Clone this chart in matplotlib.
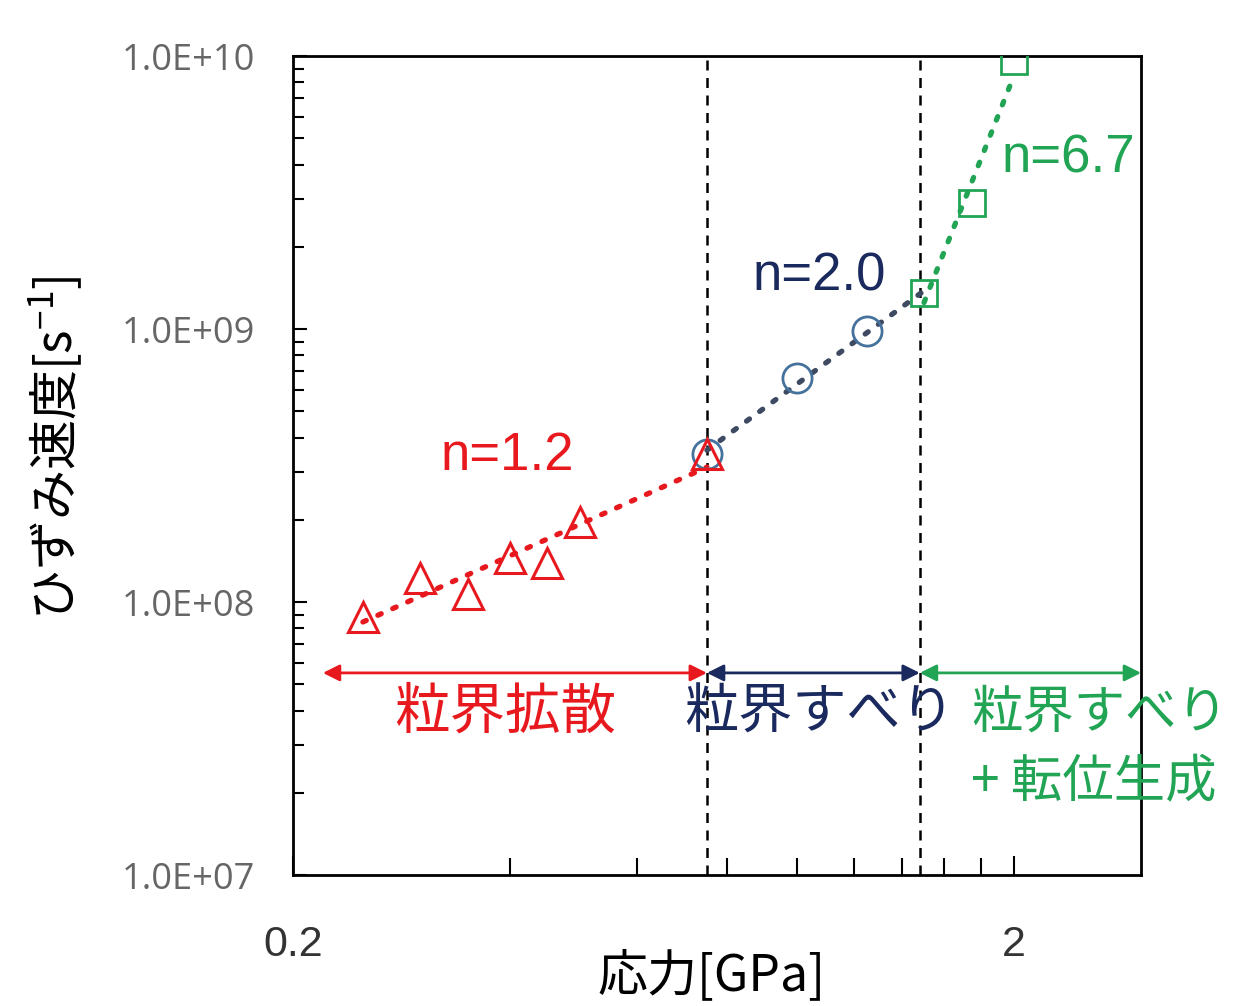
import math
import matplotlib
matplotlib.use("Agg")
import matplotlib.pyplot as plt
import matplotlib.ticker as mticker

plt.rcParams['font.family'] = ['Noto Sans CJK JP', 'DejaVu Sans']

RED = '#E8191E'
NAVY = '#1B2A5E'
BLUE = '#44729D'
BLUE_LINE = '#3E4A62'
GREEN = '#22A455'

# data
red_x = [0.25, 0.30, 0.35, 0.40, 0.45, 0.50, 0.75]
red_y = [8.8e7, 1.22e8, 1.07e8, 1.45e8, 1.39e8, 1.96e8, 3.48e8]
blue_x = [0.75, 1.0, 1.25]
blue_y = [3.48e8, 6.6e8, 9.8e8]
green_x = [1.5, 1.75, 2.0]
green_y = [1.35e9, 2.9e9, 9.6e9]

# fitted power-law lines (endpoints)
fit_red_x = [0.25, 0.75]
fit_red_y = [8.45e7, 3.12e8]
fit_blue_x = [0.75, 1.5]
fit_blue_y = [3.6e8, 1.38e9]
fit_green_x = [1.5, 2.0]
fit_green_y = [1.25e9, 8.5e9]

boundaries = [0.75, 1.48]
regime_x = [0.22, 0.75, 1.48, 3.0]
arrow_y = 5.5e7

fig = plt.figure(figsize=(12.38, 10.06), dpi=100)
ax = fig.add_axes([0.2367, 0.1302, 0.685, 0.8141])
ax.set_xscale('log')
ax.set_yscale('log')
ax.set_xlim(0.2, 3.0)
ax.set_ylim(1e7, 1e10)

dot = (0, (0.7, 2.4))
ax.plot(fit_red_x, fit_red_y, color=RED, lw=3.8, linestyle=dot, dash_capstyle='round', zorder=2)
ax.plot(fit_blue_x, fit_blue_y, color=BLUE_LINE, lw=3.8, linestyle=dot, dash_capstyle='round', zorder=2)
ax.plot(fit_green_x, fit_green_y, color=GREEN, lw=3.8, linestyle=dot, dash_capstyle='round', zorder=2)

ax.plot(blue_x, blue_y, 'o', ms=21, mfc='none', mec=BLUE, mew=2, zorder=3)
ax.plot(red_x, red_y, '^', ms=22, mfc='none', mec=RED, mew=2.2, zorder=4)
ax.plot(green_x, green_y, 's', ms=19, mfc='none', mec=GREEN, mew=2, zorder=5)

for b in boundaries:
    ax.axvline(b, color='black', lw=1.8, linestyle=(0, (4, 3)), zorder=1)

cols = [RED, NAVY, GREEN]
for i in range(3):
    ax.annotate('', xy=(regime_x[i + 1], arrow_y), xytext=(regime_x[i], arrow_y),
                arrowprops=dict(arrowstyle='<|-|>', color=cols[i], lw=2, mutation_scale=25,
                                shrinkA=0, shrinkB=0),
                annotation_clip=False)

ax.text(0.397, 3.43e8, 'n=1.2', color=RED, fontsize=38, ha='center', va='center', family='Liberation Sans')
ax.text(1.074, 1.56e9, 'n=2.0', color=NAVY, fontsize=38, ha='center', va='center', family='Liberation Sans')
ax.text(2.38, 4.23e9, 'n=6.7', color=GREEN, fontsize=38, ha='center', va='center', family='Liberation Sans')

ax.text(0.394, 3.92e7, '粒界拡散', color=RED, fontsize=40, ha='center', va='center')
ax.text(1.074, 3.92e7, '粒界すべり', color=NAVY, fontsize=39, ha='center', va='center')
ax.text(1.745, 3.92e7, '粒界すべり', color=GREEN, fontsize=37, ha='left', va='center')
ax.text(1.745, 2.19e7, '+ 転位生成', color=GREEN, fontsize=37, ha='left', va='center')

# ticks
ax.xaxis.set_major_locator(mticker.FixedLocator([0.2, 2]))
ax.xaxis.set_major_formatter(mticker.FixedFormatter(['0.2', '2']))
ax.xaxis.set_minor_locator(mticker.FixedLocator([0.4, 0.6, 0.8, 1.0, 1.2, 1.4, 1.6, 1.8]))
ax.xaxis.set_minor_formatter(mticker.NullFormatter())
ax.yaxis.set_major_locator(mticker.LogLocator(base=10, numticks=10))
ax.yaxis.set_minor_locator(mticker.LogLocator(base=10, subs=range(2, 10), numticks=10))
ax.yaxis.set_major_formatter(mticker.FuncFormatter(lambda v, p: '1.0E+%02d' % round(math.log10(v))))
ax.yaxis.set_minor_formatter(mticker.NullFormatter())

ax.tick_params(which='both', direction='in', top=False, right=False, width=1.5, color='black')
ax.tick_params(which='major', length=14)
ax.tick_params(which='minor', length=12)
ax.tick_params(axis='y', which='major', length=10, pad=27)
ax.tick_params(axis='y', which='minor', length=8)
ax.tick_params(axis='x', pad=36)
for lab in ax.get_yticklabels():
    lab.set_fontsize(26)
    lab.set_color('#666666')
    lab.set_family('Open Sans')
for lab in ax.get_xticklabels():
    lab.set_fontsize(31)
    lab.set_color('#333333')
    lab.set_family('Liberation Sans')

for s in ax.spines.values():
    s.set_linewidth(2)
    s.set_color('black')

fig.text(0.575, 0.004, '応力[GPa]', fontsize=36, ha='center', va='bottom')
fig.text(0.045, 0.555, 'ひずみ速度[s$^{\\mathregular{-1}}$]', fontsize=36, rotation=90, ha='center', va='center')

fig.savefig('out.png', dpi=100)
